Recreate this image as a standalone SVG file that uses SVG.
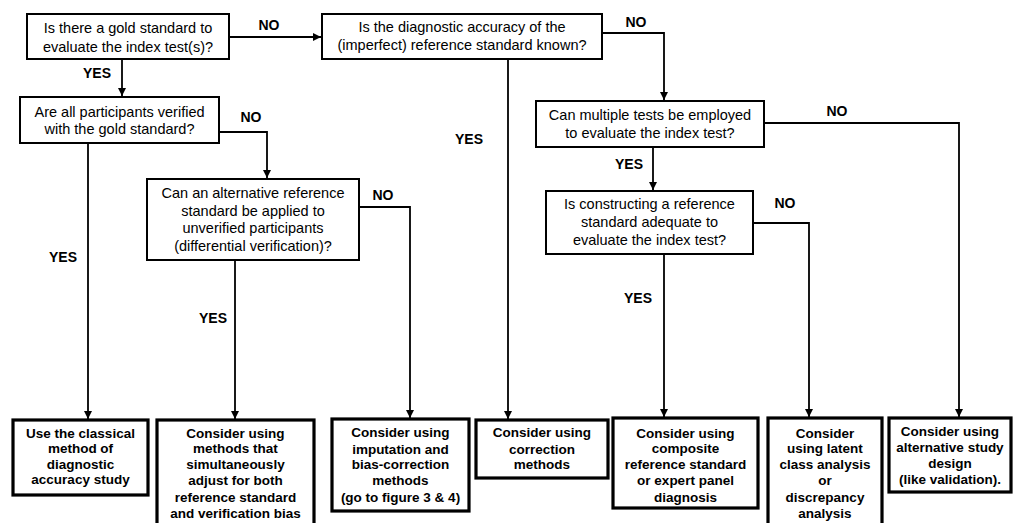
<svg xmlns="http://www.w3.org/2000/svg" width="1031" height="523" viewBox="0 0 1031 523">
<style>
.q rect{fill:#fff;stroke:#000;stroke-width:2}
.r rect{fill:#fff;stroke:#000;stroke-width:3.2}
.q text{font-family:"Liberation Sans",Arial,sans-serif;font-size:14.5px;text-anchor:middle;fill:#000}
.r text{font-family:"Liberation Sans",Arial,sans-serif;font-size:13.5px;font-weight:bold;text-anchor:middle;fill:#000}
.c path{fill:none;stroke:#000;stroke-width:1.8;marker-end:url(#ah)}
.c text{font-family:"Liberation Sans",Arial,sans-serif;font-size:14px;font-weight:bold;text-anchor:middle;fill:#000}
</style>
<defs>
<marker id="ah" markerUnits="userSpaceOnUse" markerWidth="9" markerHeight="9" refX="8" refY="4" orient="auto">
<path d="M0,0 L8,4 L0,8 z" fill="#000"/>
</marker>
</defs>
<rect width="1031" height="523" fill="#fff"/>
<g class="c" id="connectors">
<path d="M229,37 H321"/>
<text x="269" y="30">NO</text>
<path d="M122,59 V96"/>
<text x="97" y="78">YES</text>
<path d="M219,132 H267 V178"/>
<text x="251" y="122">NO</text>
<path d="M88,143 V419"/>
<text x="63" y="262">YES</text>
<path d="M359,207 H410 V418"/>
<text x="383" y="200">NO</text>
<path d="M235,260 V419"/>
<text x="213" y="323">YES</text>
<path d="M602,33 H664 V100"/>
<text x="636" y="27">NO</text>
<path d="M508,59 V419"/>
<text x="469" y="144">YES</text>
<path d="M764,123 H959 V417"/>
<text x="837" y="116">NO</text>
<path d="M653,147 V190"/>
<text x="629" y="169">YES</text>
<path d="M753,223 H809 V417"/>
<text x="785" y="208">NO</text>
<path d="M664,254 V417"/>
<text x="638" y="303">YES</text>
</g>
<g class="q" id="gold">
<rect x="27" y="14" width="202" height="45"/>
<text x="128" y="33">Is there a gold standard to</text>
<text x="128" y="52">evaluate the index test(s)?</text>
</g>
<g class="q" id="accuracy">
<rect x="322" y="14" width="280" height="45"/>
<text x="462" y="32">Is the diagnostic accuracy of the</text>
<text x="462" y="50">(imperfect) reference standard known?</text>
</g>
<g class="q" id="verified">
<rect x="20" y="97" width="199" height="46"/>
<text x="119.5" y="117">Are all participants verified</text>
<text x="119.5" y="134">with the gold standard?</text>
</g>
<g class="q" id="multiple">
<rect x="536" y="101" width="228" height="46"/>
<text x="650" y="120">Can multiple tests be employed</text>
<text x="650" y="138">to evaluate the index test?</text>
</g>
<g class="q" id="constructing">
<rect x="546" y="191" width="207" height="63"/>
<text x="649.5" y="209">Is constructing a reference</text>
<text x="649.5" y="227">standard adequate to</text>
<text x="649.5" y="245">evaluate the index test?</text>
</g>
<g class="q" id="alternative">
<rect x="147" y="179" width="212" height="81"/>
<text x="253" y="198">Can an alternative reference</text>
<text x="253" y="216">standard be applied to</text>
<text x="253" y="233">unverified participants</text>
<text x="253" y="251">(differential verification)?</text>
</g>
<g class="r" id="classical">
<rect x="13" y="420" width="135" height="75"/>
<text x="80.5" y="438">Use the classical</text>
<text x="80.5" y="453">method of</text>
<text x="80.5" y="469">diagnostic</text>
<text x="80.5" y="484">accuracy study</text>
</g>
<g class="r" id="simultaneous">
<rect x="157" y="420" width="157" height="112"/>
<text x="235.5" y="438">Consider using</text>
<text x="235.5" y="453">methods that</text>
<text x="235.5" y="469">simultaneously</text>
<text x="235.5" y="485">adjust for both</text>
<text x="235.5" y="502">reference standard</text>
<text x="235.5" y="518">and verification bias</text>
</g>
<g class="r" id="imputation">
<rect x="332" y="419" width="137" height="92"/>
<text x="400.5" y="437">Consider using</text>
<text x="400.5" y="454">imputation and</text>
<text x="400.5" y="469">bias-correction</text>
<text x="400.5" y="485">methods</text>
<text x="400.5" y="502">(go to figure 3 &amp; 4)</text>
</g>
<g class="r" id="correction">
<rect x="476" y="420" width="132" height="58"/>
<text x="542" y="437">Consider using</text>
<text x="542" y="454">correction</text>
<text x="542" y="469">methods</text>
</g>
<g class="r" id="composite">
<rect x="613" y="418" width="145" height="90"/>
<text x="685.5" y="438">Consider using</text>
<text x="685.5" y="453">composite</text>
<text x="685.5" y="469">reference standard</text>
<text x="685.5" y="485">or expert panel</text>
<text x="685.5" y="502">diagnosis</text>
</g>
<g class="r" id="latent">
<rect x="768" y="418" width="114" height="112"/>
<text x="825" y="438">Consider</text>
<text x="825" y="453">using latent</text>
<text x="825" y="469">class analysis</text>
<text x="825" y="485">or</text>
<text x="825" y="502">discrepancy</text>
<text x="825" y="518">analysis</text>
</g>
<g class="r" id="design">
<rect x="889" y="418" width="122" height="74"/>
<text x="950" y="436">Consider using</text>
<text x="950" y="452">alternative study</text>
<text x="950" y="468">design</text>
<text x="950" y="484">(like validation).</text>
</g>
</svg>
